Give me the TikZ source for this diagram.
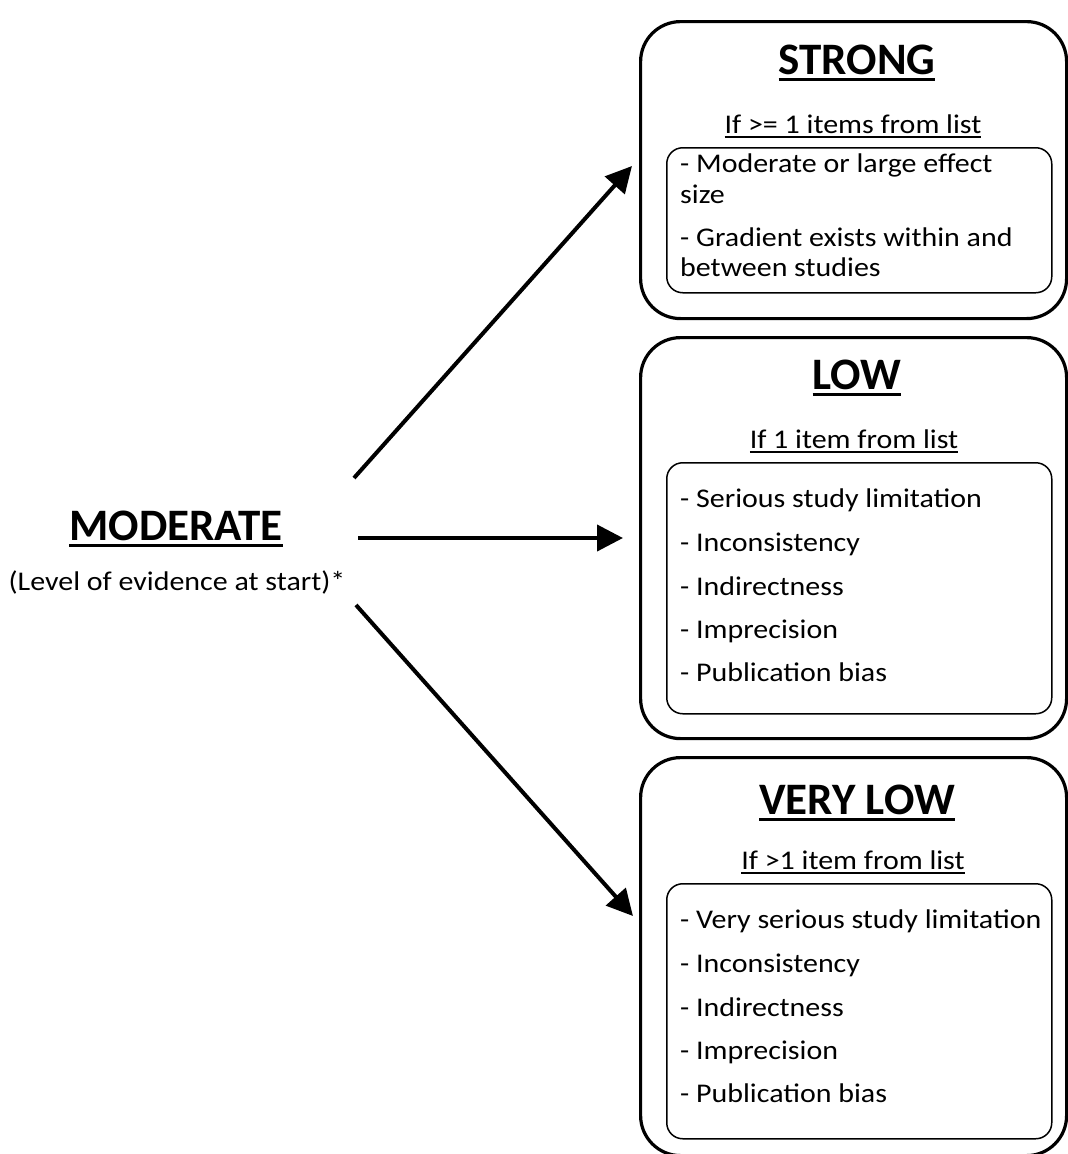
\documentclass[tikz,border=0pt]{standalone}
\usepackage{fontspec}
\setmainfont{Carlito}
\newfontfamily\widefont[FakeStretch=1.11]{Carlito}
\usetikzlibrary{arrows.meta}
\newcommand\myul[3]{\vtop{\hbox{#3}\kern#1\hrule height #2}}
\begin{document}
\begin{tikzpicture}[x=1pt,y=-1pt,
 outer/.style={draw, line width=3.2pt, rounded corners=40pt, anchor=north west, inner sep=0},
 inner/.style={draw, line width=1.5pt, rounded corners=16pt, anchor=north west, inner sep=0},
 title/.style={anchor=base, font=\fontsize{45}{50}\selectfont\bfseries, inner sep=0},
 cond/.style={anchor=base, font=\widefont\fontsize{27}{30}\selectfont, inner sep=0},
 item/.style={anchor=base west, font=\widefont\fontsize{27}{30}\selectfont, inner sep=0},
 arr/.style={line width=4pt, -{Triangle[length=26pt,width=26pt]}}]
\useasboundingbox (0,0) rectangle (1068,1154);

% outer boxes
\node[outer, minimum width=426pt, minimum height=297pt] (strong) at (639,20) {};
\node[outer, minimum width=426pt, minimum height=401pt] (low) at (639,336) {};
\node[outer, minimum width=426pt, minimum height=398pt] (vlow) at (639,756) {};

% inner boxes
\node[inner, minimum width=385pt, minimum height=145pt] (strongin) at (666,147) {};
\node[inner, minimum width=385pt, minimum height=251pt] (lowin) at (666,462) {};
\node[inner, minimum width=385pt, minimum height=255pt] (vlowin) at (666,883) {};

% titles
\node[title] (tstrong) at (857,74) {\myul{4pt}{3pt}{STRONG}};
\node[title] (tlow) at (857,389) {\myul{4pt}{3pt}{LOW}};
\node[title] (tvlow) at (857,814) {\myul{4pt}{3pt}{VERY LOW}};
\node[title] (tmod) at (176,540) {\myul{4pt}{3pt}{MODERATE}};
\node[cond] (tlevel) at (177,590) {(Level of evidence at start)*};

% conditions
\node[cond] (cstrong) at (853,133) {\myul{3pt}{1.5pt}{If >= 1 items from list}};
\node[cond] (clow) at (854,448) {\myul{3pt}{1.5pt}{If 1 item from list}};
\node[cond] (cvlow) at (853,869) {\myul{3pt}{1.5pt}{If >1 item from list}};

% strong items
\node[item] (s1) at (680,172) {- Moderate or large effect};
\node[item] (s2) at (680,203) {size};
\node[item] (s3) at (680,246) {- Gradient exists within and};
\node[item] (s4) at (680,276) {between studies};

% low items
\node[item] (l1) at (680,507) {- Serious study limitation};
\node[item] (l2) at (680,551) {- Inconsistency};
\node[item] (l3) at (680,595) {- Indirectness};
\node[item] (l4) at (680,638) {- Imprecision};
\node[item] (l5) at (680,681) {- Publication bias};

% very low items
\node[item] (v1) at (680,928) {- Very serious study limitation};
\node[item] (v2) at (680,972) {- Inconsistency};
\node[item] (v3) at (680,1016) {- Indirectness};
\node[item] (v4) at (680,1059) {- Imprecision};
\node[item] (v5) at (680,1102) {- Publication bias};

% arrows
\coordinate (a1s) at (354,478);
\coordinate (a1e) at (632,166);
\coordinate (a2s) at (358,538);
\coordinate (a2e) at (623,538);
\coordinate (a3s) at (356,605);
\coordinate (a3e) at (633,916);
\draw[arr] (a1s) -- (a1e);
\draw[arr] (a2s) -- (a2e);
\draw[arr] (a3s) -- (a3e);
\end{tikzpicture}
\end{document}
